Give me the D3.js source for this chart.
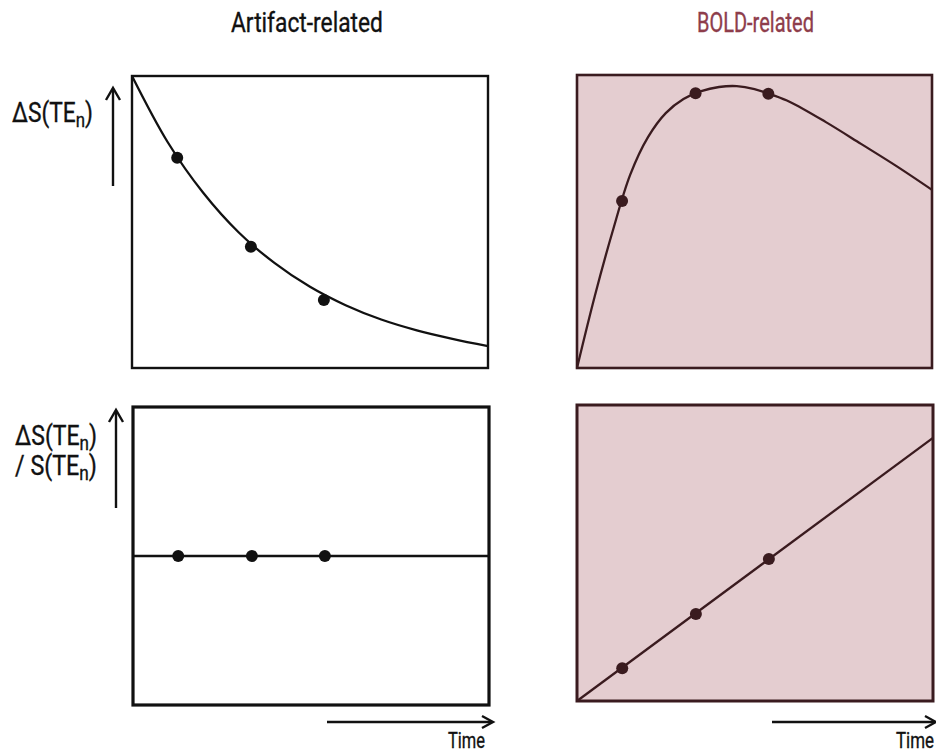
<!DOCTYPE html>
<html>
<head>
<meta charset="utf-8">
<script src="https://cdn.jsdelivr.net/npm/d3@7"></script>
<style>
  html, body { margin: 0; padding: 0; background: #ffffff; }
  svg { display: block; }
  text { font-family: "Liberation Sans Narrow", "Arial Narrow", "Roboto", "Liberation Sans", sans-serif; font-weight: 400; }
</style>
</head>
<body>
<svg id="chart" width="936" height="754"></svg>
<script>
// ---------------- DATA ----------------
const columnTitles = ["Artifact-related", "BOLD-related"];
const timeLabel = "Time";
const yLabelSignal = [["ΔS(TE", "n", ")"]];
const yLabelRatio = [["ΔS(TE", "n", ")"], ["/ S(TE", "n", ")"]];

// echo times (shared by all panels), in relative time units 0..100
const echoTimes = [12.7, 33.4, 53.9];

// Top-left: artifact-related signal change, decaying with TE
const artifactSignalT = [0, 10, 20, 30, 40, 50, 60, 70, 80, 90, 100];
const artifactSignalV = [100, 77.4, 60, 46.4, 36, 27.8, 21.5, 16.6, 12.9, 10, 7.5];
const artifactSignalEchoV = [72, 41.5, 23.3];

// Top-right: BOLD-related signal change, rising then falling with TE
const boldSignalT = [0, 5, 10, 15, 20, 25, 30, 35, 40, 45, 50, 55, 60, 70, 80, 90, 100];
const boldSignalV = [0, 24.5, 46.5, 66, 78.8, 87.0, 91.8, 94.5, 95.9, 96.2, 95.2, 93.2, 90.8, 84.0, 76.5, 68.9, 60.8];
const boldSignalEchoV = [57, 93.8, 93.6];

// Bottom-left: artifact-related fractional change, constant
const artifactRatioT = [0, 100];
const artifactRatioV = [50, 50];
const artifactRatioEchoV = [50, 50, 50];

// Bottom-right: BOLD-related fractional change, linear in TE
const boldRatioT = [0, 100];
const boldRatioV = [0, 88.9];
const boldRatioEchoV = [11.1, 29.4, 48.0];

// ---------------- LAYOUT ----------------
const svg = d3.select("#chart");
const ink = "#111111";
const bInk = "#3a1b1f";
const pink = "#e4cdd0";
const boldTitle = "#8e3d4b";

const panels = [
  { x0: 132, x1: 488, y0: 76, y1: 368, fill: "#ffffff", stroke: ink, bw: 2.4,
    t: artifactSignalT, v: artifactSignalV, ev: artifactSignalEchoV, curve: d3.curveCatmullRom.alpha(0.5), col: ink },
  { x0: 577, x1: 932, y0: 75, y1: 368, fill: pink, stroke: bInk, bw: 2.6,
    t: boldSignalT, v: boldSignalV, ev: boldSignalEchoV, curve: d3.curveCatmullRom.alpha(0.5), col: bInk },
  { x0: 133, x1: 489, y0: 407, y1: 705, fill: "#ffffff", stroke: ink, bw: 3.2,
    t: artifactRatioT, v: artifactRatioV, ev: artifactRatioEchoV, curve: d3.curveLinear, col: ink },
  { x0: 577, x1: 933, y0: 405, y1: 701, fill: pink, stroke: bInk, bw: 3.0,
    t: boldRatioT, v: boldRatioV, ev: boldRatioEchoV, curve: d3.curveLinear, col: bInk }
];

panels.forEach(p => {
  const x = d3.scaleLinear().domain([0, 100]).range([p.x0, p.x1]);
  const y = d3.scaleLinear().domain([0, 100]).range([p.y1, p.y0]);
  const g = svg.append("g");
  g.append("rect")
    .attr("x", x(0)).attr("y", y(100))
    .attr("width", x(100) - x(0)).attr("height", y(0) - y(100))
    .attr("fill", p.fill).attr("stroke", p.stroke).attr("stroke-width", p.bw);
  const pts = p.t.map((tt, i) => [tt, p.v[i]]);
  g.append("path")
    .attr("d", d3.line().x(d => x(d[0])).y(d => y(d[1])).curve(p.curve)(pts))
    .attr("fill", "none").attr("stroke", p.col).attr("stroke-width", 2.3)
    .attr("stroke-linejoin", "round");
  g.selectAll("circle.echo").data(echoTimes.map((tt, i) => [tt, p.ev[i]])).enter()
    .append("circle").attr("class", "echo")
    .attr("cx", d => x(d[0])).attr("cy", d => y(d[1])).attr("r", 6)
    .attr("fill", p.col);
});

// ---------------- TEXT HELPERS ----------------
function fitText(sel, left, baseline, width) {
  const bb = sel.node().getBBox();
  const sx = width / bb.width;
  sel.attr("transform", `translate(${left - bb.x * sx},${baseline}) scale(${sx},1)`);
}
function styleText(t, color) {
  return t.attr("fill", color).attr("stroke", color).attr("stroke-width", 0.35);
}
function labelText(parts, size, subSize, color) {
  const t = styleText(svg.append("text").attr("x", 0).attr("y", 0).attr("font-size", size), color);
  t.append("tspan").text(parts[0]);
  t.append("tspan").attr("font-size", subSize).attr("dy", 5).text(parts[1]);
  t.append("tspan").attr("dy", -5).text(parts[2]);
  return t;
}

// Column titles
const tt1 = styleText(svg.append("text").attr("font-size", 27), ink).text(columnTitles[0]);
fitText(tt1, 231, 32, 152);
const tt2 = styleText(svg.append("text").attr("font-size", 27), boldTitle).text(columnTitles[1]);
fitText(tt2, 697, 32, 117);

// Y labels
const yl1 = labelText(yLabelSignal[0], 27, 20, ink);
fitText(yl1, 12, 122, 81);
const yl2 = labelText(yLabelRatio[0], 27, 20, ink);
fitText(yl2, 15, 445, 82);
const yl3 = labelText(yLabelRatio[1], 27, 20, ink);
fitText(yl3, 15, 475, 82);

// Time labels
const tl1 = styleText(svg.append("text").attr("font-size", 22), ink).text(timeLabel);
fitText(tl1, 448, 748, 37);
const tl2 = styleText(svg.append("text").attr("font-size", 22), ink).text(timeLabel);
fitText(tl2, 896, 748, 38);

// ---------------- ARROWS ----------------
function upArrow(xp, top, bottom) {
  svg.append("line").attr("x1", xp).attr("x2", xp).attr("y1", bottom).attr("y2", top + 1)
    .attr("stroke", ink).attr("stroke-width", 2.4);
  svg.append("path").attr("d", `M${xp - 7},${top + 12} L${xp},${top} L${xp + 7},${top + 12}`)
    .attr("fill", "none").attr("stroke", ink).attr("stroke-width", 2.4);
}
function rightArrow(left, right, yp) {
  svg.append("line").attr("x1", left).attr("x2", right - 1).attr("y1", yp).attr("y2", yp)
    .attr("stroke", ink).attr("stroke-width", 2.4);
  svg.append("path").attr("d", `M${right - 11},${yp - 6} L${right},${yp} L${right - 11},${yp + 6}`)
    .attr("fill", "none").attr("stroke", ink).attr("stroke-width", 2.4);
}
upArrow(113, 88, 186);
upArrow(116, 410, 508);
rightArrow(327, 493, 722);
rightArrow(772, 936, 722);
</script>
</body>
</html>
